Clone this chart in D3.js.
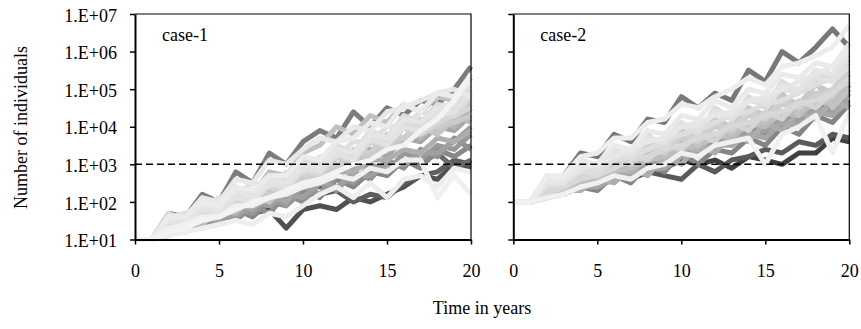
<!DOCTYPE html>
<html>
<head>
<meta charset="utf-8">
<script src="https://cdn.jsdelivr.net/npm/d3@7"></script>
<style>
  body { margin: 0; background: #fff; }
  svg { display: block; }
  text { font-family: "Liberation Serif", "Times New Roman", serif; fill: #000; }
</style>
</head>
<body>
<svg id="chart" width="861" height="329"></svg>
<script>
// years on the x axis
const years = [0,1,2,3,4,5,6,7,8,9,10,11,12,13,14,15,16,17,18,19,20];
const xTicks = [0,5,10,15,20];
const yTicks = [1e1,1e2,1e3,1e4,1e5,1e6,1e7];
const yTickLabels = ["1.E+01","1.E+02","1.E+03","1.E+04","1.E+05","1.E+06","1.E+07"];
const threshold = 1e3;

// case-1 runs; darkest first so the light ones sit on top
const case1Runs = [
  [10,10,20,32,50,63,79,50,63,20,63,79,63,130,100,160,250,500,400,1000,790],
  [10,10,25,40,50,79,100,130,200,130,250,160,200,100,160,130,320,500,630,1300,1000],
  [10,10,25,32,63,50,130,79,200,160,320,250,500,400,790,630,1300,1000,2000,790,1300],
  [10,10,50,40,160,100,630,320,2000,1000,4000,7900,5000,2.5e4,1e4,3.2e4,2e4,5e4,4e4,1e5,4e5],
  [10,10,16,20,32,25,63,40,100,79,200,130,400,250,630,500,1300,790,2500,1600,3200],
  [10,10,13,20,20,40,32,79,50,160,100,320,200,630,400,1300,790,2500,1600,5000,2500],
  [10,10,20,16,40,25,63,50,130,79,250,160,500,320,1000,630,2000,1300,3200,2500,6300],
  [10,10,16,25,25,50,40,100,79,160,130,320,250,500,500,1000,1000,2000,2000,4000,1e4],
  [10,10,16,25,40,32,79,63,160,100,400,320,1000,790,2500,1600,5000,4000,1e4,7900,2e4],
  [10,10,25,20,50,40,100,79,200,160,400,320,630,630,1300,1300,2500,2000,5000,4000,7900],
  [10,10,32,20,50,40,130,79,250,160,630,400,1600,1000,4000,2500,1e4,5000,1.6e4,1e4,3.2e4],
  [10,10,20,32,25,63,50,130,100,250,250,630,630,1600,1600,4000,4000,1e4,6300,2e4,1.3e4],
  [10,10,32,25,79,63,250,160,630,500,2000,3200,1e4,6300,2e4,1.3e4,4e4,2.5e4,6.3e4,5e4,2e5],
  [10,10,20,32,32,63,63,160,100,320,250,790,630,1600,1600,4000,3200,1e4,6300,1.6e4,4e4],
  [10,10,16,25,40,50,79,100,160,200,400,500,1000,1300,2000,3200,5000,6300,1e4,1.3e4,2e4],
  [10,10,25,40,50,100,79,200,160,400,320,1000,790,2500,2000,6300,5000,1.6e4,1e4,2.5e4,5e4],
  [10,10,32,40,63,79,160,130,320,250,790,630,2000,1600,5000,4000,1.3e4,1e4,2.5e4,2e4,7.9e4],
  [10,10,25,32,50,63,100,130,250,200,630,500,1600,1300,4000,3200,1e4,6300,1.3e4,2e4,3.2e4],
  [10,10,40,25,79,50,200,100,400,200,1000,630,2500,1600,6300,4000,1.6e4,1e4,3.2e4,2e4,6.3e4],
  [10,10,50,32,100,79,250,160,500,320,1300,1000,3200,2000,7900,5000,2e4,1.3e4,4e4,3.2e4,1e5],
  [10,10,40,50,79,130,160,320,250,630,630,1600,1600,4000,4000,1e4,1e4,2.5e4,2e4,5e4,1.3e5],
  [10,10,32,25,63,50,130,100,320,250,790,630,2000,1300,5000,3200,1e4,7900,2e4,2.5e4,7.9e4],
  [10,10,32,32,79,63,200,130,400,320,1000,790,2500,2000,6300,5000,1.6e4,1.3e4,3.2e4,4e4,2.5e5],
  [10,10,40,40,130,100,400,320,1300,1000,2500,5000,4000,1e4,7900,2.5e4,3.2e4,5e4,7.9e4,1e5,6.3e4],
  [10,10,40,40,100,79,250,200,500,500,1600,1300,4000,5000,1.3e4,1e4,4e4,2.5e4,7.9e4,6.3e4,1.6e5],
  [10,10,13,16,20,25,32,25,50,40,79,160,250,130,320,130,400,500,250,790,630],
  [10,10,20,25,40,40,79,79,130,160,250,320,500,400,790,630,1300,1300,130,500,160],
  [10,10,16,20,32,40,63,100,130,200,320,400,630,1000,1300,2500,3200,7900,1.6e4,5e4,2.5e5]
];
const case1Shades = ["#505050","#5e5e5e","#6a6a6a","#7c7c7c","#878787","#909090","#989898",
  "#a0a0a0","#a7a7a7","#aeaeae","#b4b4b4","#bababa","#c0c0c0","#c5c5c5","#cacaca","#cecece",
  "#d2d2d2","#d6d6d6","#d9d9d9","#dcdcdc","#dfdfdf","#e2e2e2","#e5e5e5","#e8e8e8","#ebebeb",
  "#eeeeee","#f0f0f0","#f3f3f3"];

// case-2 runs
const case2Runs = [
  [100,100,200,250,500,400,1000,630,1300,790,1300,1000,1300,790,1600,1300,1000,2000,2000,5000,4000],
  [100,100,250,200,400,320,630,400,630,500,400,1000,630,1300,1600,2500,2000,4000,3200,6300,5000],
  [100,100,400,500,2000,1600,6300,4000,1.6e4,1.3e4,6.3e4,3.2e4,7.9e4,5e4,3.2e5,1.6e5,1e6,5e5,1.3e6,4e6,1.3e6],
  [100,100,160,160,250,200,500,320,1000,630,2000,1000,2500,2000,5000,3200,1e4,6300,2e4,1.3e4,4e4],
  [100,100,160,250,320,500,630,400,1300,790,2500,1600,5000,3200,1e4,6300,2e4,1.3e4,4e4,2.5e4,1e5],
  [100,100,200,160,400,320,790,630,1600,1000,3200,2000,6300,4000,1.3e4,7900,2.5e4,1.6e4,6.3e4,3.2e4,1.3e5],
  [100,100,160,200,320,250,630,500,1000,1300,2000,2500,3200,5000,6300,7900,1.6e4,1.3e4,3.2e4,2.5e4,7.9e4],
  [100,100,130,160,250,250,400,500,790,790,1600,2000,3200,3200,6300,5000,1.3e4,1e4,2.5e4,2e4,5e4],
  [100,100,130,200,200,400,320,790,500,1600,1000,3200,2000,6300,4000,1.3e4,7900,2.5e4,1.6e4,5e4,3.2e4],
  [100,100,200,160,400,320,790,630,1600,1300,3200,2500,6300,5000,1.3e4,1e4,2.5e4,2e4,5e4,4e4,7.9e4],
  [100,100,250,200,500,400,1000,790,2000,1600,4000,3200,6300,5000,1.3e4,1e4,2.5e4,2e4,5e4,4e4,1.6e5],
  [100,100,160,200,320,400,630,790,1300,1600,2500,3200,5000,6300,1e4,1.3e4,2e4,2.5e4,4e4,5e4,1e5],
  [100,100,250,320,630,500,1600,1000,3200,2000,7900,3200,1.6e4,6300,3.2e4,1.3e4,7.9e4,2e4,1.6e5,3.2e4,1e5],
  [100,100,320,250,790,630,2000,1300,4000,2500,7900,5000,1.6e4,1e4,3.2e4,2e4,6.3e4,4e4,1.3e5,7.9e4,2.5e5],
  [100,100,320,200,630,500,1300,1000,2500,2000,5000,4000,1e4,7900,2e4,1.6e4,4e4,3.2e4,7.9e4,6.3e4,2.5e5],
  [100,100,200,250,500,790,1300,1000,3200,2000,6300,4000,1.3e4,7900,2.5e4,1.6e4,5e4,3.2e4,6.3e4,1e5,3.2e5],
  [100,100,200,320,400,630,790,1600,1300,3200,2500,6300,4000,1.3e4,7900,2.5e4,1.6e4,5e4,3.2e4,7.9e4,1.6e5],
  [100,100,160,250,400,500,790,1300,1600,2500,3200,5000,6300,1e4,1.3e4,2e4,2.5e4,4e4,5e4,7.9e4,2e5],
  [100,100,400,250,1000,500,2500,1300,6300,2500,1.3e4,6300,3.2e4,1.6e4,6.3e4,3.2e4,1.6e5,7.9e4,3.2e5,1.6e5,6.3e5],
  [100,100,250,320,630,630,1300,1600,2500,4000,6300,7900,1.3e4,2e4,2.5e4,4e4,5e4,7.9e4,1.3e5,2e5,5e5],
  [100,100,400,320,1000,790,2500,1600,5000,4000,1.3e4,7900,2.5e4,1.6e4,5e4,4e4,1e5,7.9e4,2e5,1.6e5,4e5],
  [100,100,320,320,790,1000,2000,2000,5000,4000,1e4,1e4,2.5e4,2e4,5e4,5e4,1.3e5,1e5,3.2e5,2.5e5,7.9e5],
  [100,100,320,400,790,1000,1600,2500,4000,5000,1e4,1.3e4,2e4,2.5e4,5e4,6.3e4,1e5,1.6e5,2.5e5,4e5,1e6],
  [100,100,500,400,1300,1000,3200,2500,7900,6300,2e4,1.6e4,5e4,3.2e4,1e5,7.9e4,2.5e5,2e5,5e5,4e5,1.6e6],
  [100,100,500,500,1600,2000,5000,5000,1.3e4,1.6e4,4e4,3.2e4,6.3e4,1e5,2e5,1.3e5,4e5,5e5,7.9e5,1.3e6,5e6],
  [100,100,130,160,250,320,500,400,790,1000,2000,1600,3200,4000,5000,1000,6300,1e4,2e4,2000,2.5e4]
];
const case2Shades = ["#404040","#5a5a5a","#787878","#858585","#8e8e8e","#979797","#9f9f9f",
  "#a6a6a6","#adadad","#b3b3b3","#b9b9b9","#bebebe","#c3c3c3","#c8c8c8","#cccccc","#d0d0d0",
  "#d4d4d4","#d8d8d8","#dbdbdb","#dedede","#e1e1e1","#e4e4e4","#e7e7e7","#eaeaea","#ededed",
  "#f0f0f0"];

const svg = d3.select("#chart");
const plotTop = 14, plotBottom = 239.5;

const y = d3.scaleLog().domain([1e1, 1e7]).range([plotBottom, plotTop]);

const panels = [
  { name: "case-1", runs: case1Runs, shades: case1Shades, left: 135, right: 471, labels: true },
  { name: "case-2", runs: case2Runs, shades: case2Shades, left: 513.3, right: 849.3, labels: false }
];

panels.forEach(p => {
  const x = d3.scaleLinear().domain([0, 20]).range([p.left, p.right]);
  const g = svg.append("g");

  const line = d3.line()
    .x((d, i) => x(years[i]))
    .y(d => y(d));

  g.selectAll("path.run")
    .data(p.runs)
    .join("path")
    .attr("class", "run")
    .attr("d", line)
    .attr("fill", "none")
    .attr("stroke", (d, i) => p.shades[i])
    .attr("stroke-width", 5)
    .attr("stroke-linejoin", "round");

  // threshold line
  g.append("line")
    .attr("x1", p.left).attr("x2", p.right)
    .attr("y1", y(threshold)).attr("y2", y(threshold))
    .attr("stroke", "#000")
    .attr("stroke-width", 1.5)
    .attr("stroke-dasharray", "7,4");

  // top and right border
  g.append("path")
    .attr("d", `M${p.left},${plotTop}H${p.right}V${plotBottom}`)
    .attr("fill", "none")
    .attr("stroke", "#000")
    .attr("stroke-width", 1.2);

  const yAxis = g.append("g")
    .attr("transform", `translate(${p.left},0)`)
    .call(d3.axisLeft(y).tickValues(yTicks).tickSize(5).tickSizeOuter(0).tickPadding(13)
      .tickFormat((d, i) => p.labels ? yTickLabels[i] : ""));
  yAxis.select(".domain").attr("stroke-width", 2);
  yAxis.selectAll(".tick line").attr("stroke-width", 1.5);
  yAxis.selectAll("text").attr("font-size", 18).attr("dy", "0.4em");

  const xAxis = g.append("g")
    .attr("transform", `translate(0,${plotBottom})`)
    .call(d3.axisBottom(x).tickValues(xTicks).tickSize(5).tickSizeOuter(0).tickPadding(20));
  xAxis.select(".domain").attr("stroke-width", 2);
  xAxis.selectAll(".tick line").attr("stroke-width", 1.5);
  xAxis.selectAll("text").attr("font-size", 18);

  svg.append("text")
    .attr("x", p.left + 27)
    .attr("y", 41)
    .attr("font-size", 18)
    .text(p.name);
});

svg.append("text")
  .attr("x", 482)
  .attr("y", 314)
  .attr("text-anchor", "middle")
  .attr("font-size", 18)
  .text("Time in years");

svg.append("text")
  .attr("transform", "translate(27,127.5) rotate(-90)")
  .attr("text-anchor", "middle")
  .attr("font-size", 18)
  .text("Number of individuals");
</script>
</body>
</html>
